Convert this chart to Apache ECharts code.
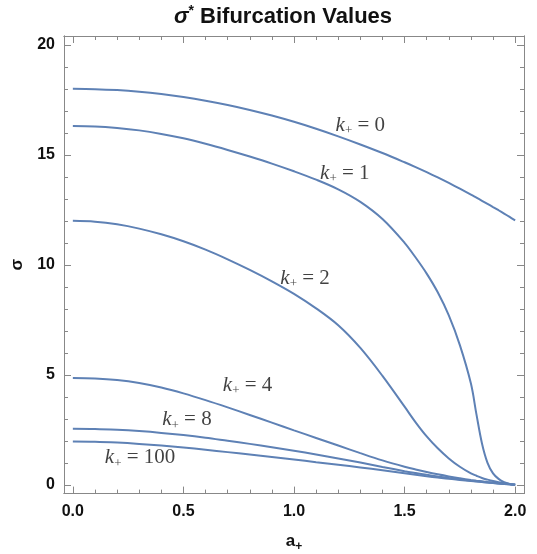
<!DOCTYPE html>
<html>
<head>
<meta charset="utf-8">
<script src="https://cdn.jsdelivr.net/npm/echarts@6/dist/echarts.min.js"></script>
<style>html,body{margin:0;padding:0;background:#fff}#c{width:537px;height:554px}</style>
</head>
<body>
<div id="c"></div>
<script>
// ---- data ----
const aValues = [0,0.1,0.2,0.3,0.4,0.5,0.6,0.7,0.8,0.9,1.0,1.1,1.2,1.3,1.4,1.5,
  1.55,1.6,1.65,1.7,1.75,1.8,1.825,1.85,1.875,1.9,1.925,1.95,1.975,2.0];
const sigmaK0 = [18.0,17.985,17.94,17.865,17.76,17.625,17.46,17.265,17.04,16.785,16.5,16.185,15.84,15.47,15.08,14.66,
  14.44,14.21,13.97,13.72,13.46,13.19,13.05,12.91,12.77,12.625,12.48,12.33,12.175,12.02];
const sigmaK1 = [16.31,16.29,16.22,16.11,15.95,15.75,15.5,15.22,14.92,14.6,14.25,13.87,13.43,12.86,12.08,11.0,
  10.33,9.6,8.75,7.7,6.35,4.6,3.2,1.88,1.0,0.52,0.27,0.12,0.04,0.0];
const sigmaK2 = [12.0,11.96,11.84,11.645,11.385,11.07,10.69,10.25,9.77,9.25,8.68,8.02,7.25,6.22,4.95,3.55,
  2.84,2.2,1.66,1.2,0.82,0.52,0.41,0.31,0.235,0.17,0.12,0.08,0.04,0.0];
const sigmaK4 = [4.85,4.83,4.76,4.625,4.42,4.155,3.85,3.52,3.175,2.825,2.475,2.13,1.785,1.44,1.11,0.82,
  0.695,0.58,0.475,0.38,0.297,0.22,0.188,0.158,0.128,0.1,0.074,0.049,0.024,0.0];
const sigmaK8 = [2.55,2.54,2.5,2.44,2.36,2.26,2.14,2.0,1.86,1.71,1.55,1.38,1.2,1.01,0.81,0.62,
  0.535,0.455,0.38,0.31,0.245,0.185,0.158,0.132,0.108,0.085,0.063,0.042,0.021,0.0];
const sigmaK100 = [1.97,1.96,1.92,1.86,1.785,1.695,1.595,1.485,1.375,1.265,1.15,1.03,0.91,0.79,0.66,0.525,
  0.455,0.39,0.33,0.27,0.22,0.17,0.145,0.122,0.1,0.08,0.06,0.04,0.02,0.0];
const kValues = ['0','1','2','4','8','100'];
const xMajorTicks = [0,0.5,1.0,1.5,2.0];
const xMinorTicks = [0.1,0.2,0.3,0.4,0.6,0.7,0.8,0.9,1.1,1.2,1.3,1.4,1.6,1.7,1.8,1.9];
const yMajorTicks = [0,5,10,15,20];
const yMinorTicks = [1,2,3,4,6,7,8,9,11,12,13,14,16,17,18,19];
// label anchor points (a, sigma) for curve annotations
const labelAnchors = [[1.30,16.34],[1.23,14.16],[1.05,9.40],[0.79,4.52],[0.516,2.95],[0.304,1.23]];

// ---- chart ----
const allSigma = [sigmaK0, sigmaK1, sigmaK2, sigmaK4, sigmaK8, sigmaK100];
const lineColor = '#5E81B5';
const frameColor = '#888888';
const labelFont = {fontFamily:'Liberation Sans, Arial, sans-serif', fontWeight:'bold', fontSize:16, color:'#111'};

function xAxisDef(pos, ticks, len, labels) {
  return {
    type:'value', position:pos, min:-0.04, max:2.04, gridIndex:0,
    axisLine:{show:true, onZero:false, lineStyle:{color:frameColor, width:1}},
    axisTick:{show:true, inside:true, length:len, customValues:ticks, lineStyle:{color:frameColor, width:1}},
    axisLabel:Object.assign({show:labels, customValues:ticks, margin:10,
      formatter:v=>Number(v).toFixed(1)}, labelFont),
    splitLine:{show:false}
  };
}
function yAxisDef(pos, ticks, len, labels) {
  return {
    type:'value', position:pos, min:-0.4, max:20.4, gridIndex:0,
    axisLine:{show:true, onZero:false, lineStyle:{color:frameColor, width:1}},
    axisTick:{show:true, inside:true, length:len, customValues:ticks, lineStyle:{color:frameColor, width:1}},
    axisLabel:Object.assign({show:labels, customValues:ticks, margin:9,
      formatter:v=>String(Math.round(v))}, labelFont),
    splitLine:{show:false}
  };
}

const xAxes = [
  xAxisDef('bottom', xMajorTicks, 7, true),
  xAxisDef('bottom', xMinorTicks, 4, false),
  xAxisDef('top', xMajorTicks, 7, false),
  xAxisDef('top', xMinorTicks, 4, false)
];
xAxes[0].name = '{a|a}{s|+}';
xAxes[0].nameLocation = 'middle';
xAxes[0].nameGap = 37;
xAxes[0].nameTextStyle = {rich:{
  a:{fontFamily:'Liberation Sans, Arial', fontWeight:'bold', fontSize:17, color:'#111'},
  s:{fontFamily:'Liberation Sans, Arial', fontWeight:'bold', fontSize:12, color:'#111', padding:[10,0,0,0]}
}};
const yAxes = [
  yAxisDef('left', yMajorTicks, 7, true),
  yAxisDef('left', yMinorTicks, 4, false),
  yAxisDef('right', yMajorTicks, 7, false),
  yAxisDef('right', yMinorTicks, 4, false)
];
yAxes[0].name = 'σ';
yAxes[0].nameLocation = 'middle';
yAxes[0].nameGap = 38;
yAxes[0].nameRotate = 90;
yAxes[0].nameTextStyle = {fontFamily:'Liberation Sans, Arial', fontWeight:'bold', fontSize:17, color:'#111'};

const series = allSigma.map((arr, i) => ({
  type:'line', name:'k+ = ' + kValues[i], xAxisIndex:0, yAxisIndex:0,
  data: aValues.map((a, j) => [a, arr[j]]),
  showSymbol:false, smooth:0.35, clip:true,
  lineStyle:{color:lineColor, width:2}, itemStyle:{color:lineColor},
  silent:true, z:2
}));
series.push({
  type:'scatter', xAxisIndex:0, yAxisIndex:0, symbolSize:1, silent:true, z:3,
  itemStyle:{color:'rgba(0,0,0,0)'},
  data: labelAnchors.map((p, i) => ({value:p, name:kValues[i]})),
  label:{show:true, position:'inside',
    formatter: p => '{k|k}{s|+}{t| = ' + p.name + '}',
    rich:{
      k:{fontFamily:'Liberation Serif, Times New Roman, serif', fontStyle:'italic', fontSize:21, color:'#111'},
      s:{fontFamily:'Liberation Serif, Times New Roman, serif', fontSize:13, color:'#111', padding:[11,0,0,0]},
      t:{fontFamily:'Liberation Serif, Times New Roman, serif', fontSize:21, color:'#111'}
    }
  }
});

const chart = echarts.init(document.getElementById('c'), null, {renderer:'canvas'});
chart.setOption({
  animation:false,
  backgroundColor:'#fff',
  grid:{left:64, top:36, width:460, height:457.6, containLabel:false, outerBoundsMode:'none'},
  xAxis:xAxes,
  yAxis:yAxes,
  series:series,
  graphic:[{
    type:'text', x:283, y:17,
    style:{
      text:'{g|σ}{st|*}{b| Bifurcation Values}',
      align:'center', verticalAlign:'middle',
      rich:{
        g:{fontFamily:'Liberation Sans, Arial', fontStyle:'italic', fontWeight:'bold', fontSize:22, fill:'#111'},
        st:{fontFamily:'Liberation Sans, Arial', fontWeight:'bold', fontSize:14, fill:'#111', padding:[0,0,11,0]},
        b:{fontFamily:'Liberation Sans, Arial', fontWeight:'bold', fontSize:22, fill:'#111'}
      }
    }
  }]
});
</script>
</body>
</html>
